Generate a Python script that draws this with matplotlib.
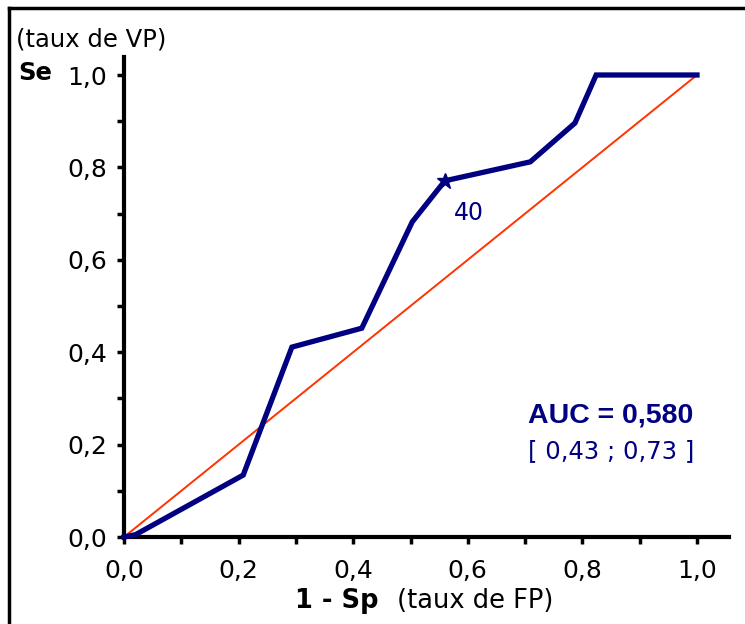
import matplotlib
matplotlib.use("Agg")
import matplotlib.pyplot as plt
from matplotlib.lines import Line2D
import numpy as np

plt.rcParams['font.family'] = ['DejaVu Sans']

# ROC data (1 - Sp, Se)
fpr = [0.0, 0.02, 0.208, 0.293, 0.415, 0.503, 0.560, 0.709, 0.787, 0.824, 1.0]
tpr = [0.0, 0.005, 0.134, 0.411, 0.452, 0.682, 0.771, 0.812, 0.896, 1.0, 1.0]
marked_x = 0.560
marked_y = 0.771
marked_label = "40"
auc_text = "AUC = 0,580"
ci_text = "[ 0,43 ; 0,73 ]"
tick_vals = [0.0, 0.2, 0.4, 0.6, 0.8, 1.0]
tick_labels = ["0,0", "0,2", "0,4", "0,6", "0,8", "1,0"]
minor_vals = [0.1, 0.3, 0.5, 0.7, 0.9]

W, H = 745, 624
fig = plt.figure(figsize=(W/100, H/100), dpi=100)
x0, x1 = 124, 697
y0, y1 = 537, 75
ax = fig.add_axes([x0/W, (H-y0)/H, (x1-x0)/W, (y0-y1)/H])
ax.set_xlim(0, 1)
ax.set_ylim(0, 1)

navy = '#000080'
ax.plot([0, 1], [0, 1], color='#FF3300', lw=1.4, clip_on=False, zorder=2)
ax.plot(fpr, tpr, color=navy, lw=3.8, clip_on=False, zorder=3,
        solid_joinstyle='miter')
ax.plot([marked_x], [marked_y], marker='*', color=navy, ms=12, clip_on=False, zorder=4)
ax.text(0.602, 0.701, marked_label, color=navy, fontsize=17,
        ha='center', va='center')
ax.text(0.85, 0.263, auc_text, color=navy, fontsize=20.5, fontweight='bold',
        ha='center', va='center', family='Liberation Sans')
ax.text(0.85, 0.185, ci_text, color=navy, fontsize=17.5,
        ha='center', va='center')

for s in ['top', 'right']:
    ax.spines[s].set_visible(False)
for s in ['left', 'bottom']:
    ax.spines[s].set_linewidth(3)
ax.spines['bottom'].set_bounds(0, 1.055)
ax.spines['left'].set_bounds(0, 1.04)

ax.set_xticks(tick_vals)
ax.set_xticklabels(tick_labels)
ax.set_yticks(tick_vals)
ax.set_yticklabels(tick_labels)
ax.set_xticks(minor_vals, minor=True)
ax.set_yticks(minor_vals, minor=True)
ax.tick_params(which='both', direction='out', length=5, width=2.5, labelsize=18)
ax.tick_params(axis='x', pad=11)
ax.tick_params(axis='y', pad=7)

# axis titles
fig.text(16/W, 1 - 40/H, "(taux de VP)", fontsize=17.5, ha='left', va='center')
fig.text(18/W, 1 - 73/H, "Se", fontsize=17.5, fontweight='bold', ha='left', va='center')
fig.text(337/W, 1 - 601/H, "1 - Sp", fontsize=18.5, fontweight='bold', ha='center', va='center')
fig.text(475/W, 1 - 601/H, "(taux de FP)", fontsize=18.5, ha='center', va='center')

# frame edges
fig.add_artist(Line2D([9/W, 1], [1 - 8/H, 1 - 8/H], color='black', lw=2.5))
fig.add_artist(Line2D([9/W, 9/W], [0, 1 - 8/H], color='black', lw=2.5))

fig.savefig("out.png", dpi=100)
